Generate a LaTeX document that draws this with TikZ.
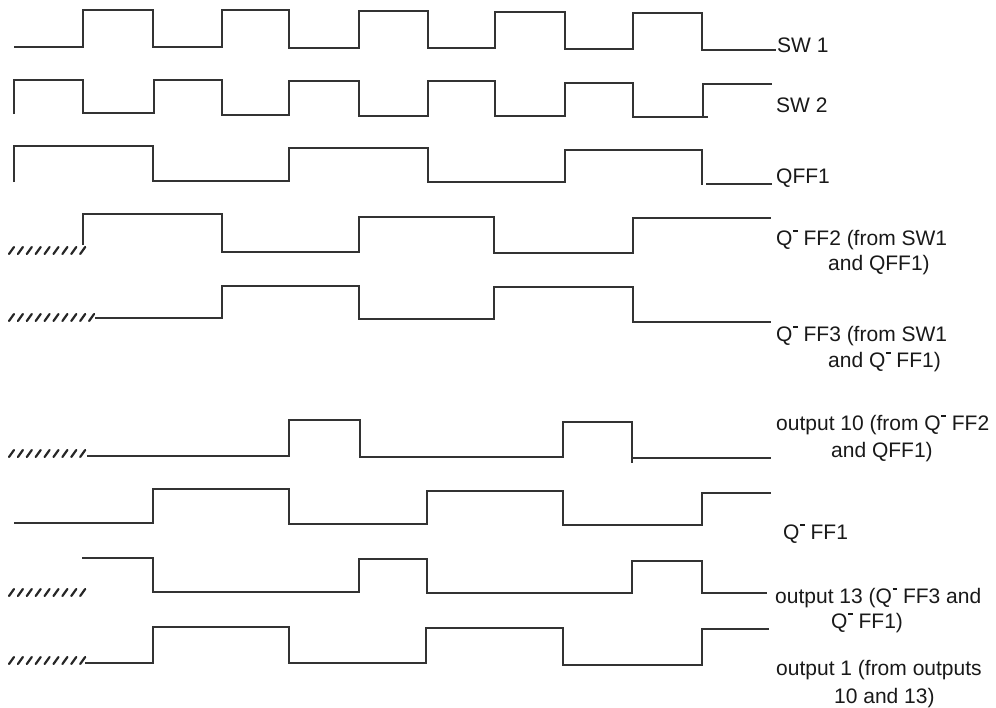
\documentclass[tikz,border=0pt]{standalone}
\usepackage{fontspec}
\setmainfont{Liberation Sans}
\newcommand{\myQ}{Q\kern0.6pt\raisebox{0.62em}{\rule{0.22em}{0.075em}}}
\begin{document}
\begin{tikzpicture}[x=1pt,y=-1pt,
  sig/.style={line width=2.6pt, draw=black!80, line join=miter, line cap=butt},
  hatchstroke/.style={line width=2.2pt, draw=black!85, line cap=round},
  lbl/.style={font=\fontsize{21}{25}\selectfont, text=black!90, inner sep=0pt, anchor=base west}]
\useasboundingbox (0,0) rectangle (996,707);
\fill[white] (0,0) rectangle (996,707);

% SW 1
\draw[sig] (14,47) -- (83,47) -- (83,10) -- (153,10) -- (153,47) -- (222,47) -- (222,10) -- (289,10) -- (289,48)
  -- (359,48) -- (359,11) -- (428,11) -- (428,48) -- (495,48) -- (495,12) -- (565,12) -- (565,49)
  -- (633,49) -- (633,13) -- (702,13) -- (702,50) -- (776,50);
% SW 2
\draw[sig] (14,114) -- (14,80) -- (83,80) -- (83,113) -- (154,113) -- (154,80) -- (222,80) -- (222,115)
  -- (289,115) -- (289,81) -- (359,81) -- (359,116) -- (428,116) -- (428,81) -- (495,81) -- (495,116)
  -- (565,116) -- (565,83) -- (633,83) -- (633,117) -- (703,117) -- (703,84) -- (772,84);
\draw[sig] (703,117) -- (708,117);
% QFF1
\draw[sig] (14,182) -- (14,146) -- (153,146) -- (153,181) -- (289,181) -- (289,148) -- (428,148) -- (428,182)
  -- (565,182) -- (565,150) -- (702,150) -- (702,185);
\draw[sig] (706,184) -- (772,184);
% Q FF2
\draw[sig] (83,245) -- (83,214) -- (222,214) -- (222,252) -- (359,252) -- (359,217) -- (494,217) -- (494,253)
  -- (633,253) -- (633,218) -- (771,218);
% Q FF3
\draw[sig] (95,318) -- (222,318) -- (222,286) -- (359,286) -- (359,319) -- (494,319) -- (494,287) -- (633,287)
  -- (633,322) -- (771,322);
% output 10
\draw[sig] (87,456) -- (289,456) -- (289,420) -- (360,420) -- (360,457) -- (563,457) -- (563,422) -- (632,422) -- (632,463);
\draw[sig] (632,458) -- (771,458);
% Q FF1
\draw[sig] (14,523) -- (153,523) -- (153,489) -- (289,489) -- (289,524) -- (427,524) -- (427,491) -- (563,491)
  -- (563,525) -- (702,525) -- (702,493) -- (771,493);
% output 13
\draw[sig] (82,558) -- (153,558) -- (153,592) -- (359,592) -- (359,559) -- (427,559) -- (427,593) -- (632,593)
  -- (632,561) -- (702,561) -- (702,593) -- (767,593);
% output 1
\draw[sig] (85,663) -- (153,663) -- (153,627) -- (289,627) -- (289,663) -- (426,663) -- (426,628) -- (563,628)
  -- (563,665) -- (702,665) -- (702,629) -- (769,629);

% hatching (undefined states)
\foreach \y/\n in {254/8, 321/9, 457/8, 596/8, 664/8}
  \foreach \i in {0,...,\n}
    \draw[hatchstroke] ({9+\i*8.9},\y) -- ++(5,-7);

% labels
\node[lbl] (tsw1) at (777,52) {SW 1};
\node[lbl] (tsw2) at (776,112) {SW 2};
\node[lbl] (tqff1) at (776,183) {QFF1};
\node[lbl] (tff2a) at (776,245) {\myQ{} FF2 (from SW1};
\node[lbl] (tff2b) at (828,270) {and QFF1)};
\node[lbl] (tff3a) at (776,341) {\myQ{} FF3 (from SW1};
\node[lbl] (tff3b) at (828,367) {and \myQ{} FF1)};
\node[lbl] (to10a) at (776,430) {output 10 (from \myQ{} FF2};
\node[lbl] (to10b) at (831,457) {and QFF1)};
\node[lbl] (tqbff1) at (783,539) {\myQ{} FF1};
\node[lbl] (to13a) at (775,603) {output 13 (\myQ{} FF3 and};
\node[lbl] (to13b) at (831,628) {\myQ{} FF1)};
\node[lbl] (to1a) at (776,675) {output 1 (from outputs};
\node[lbl] (to1b) at (834,703) {10 and 13)};
\end{tikzpicture}
\end{document}
